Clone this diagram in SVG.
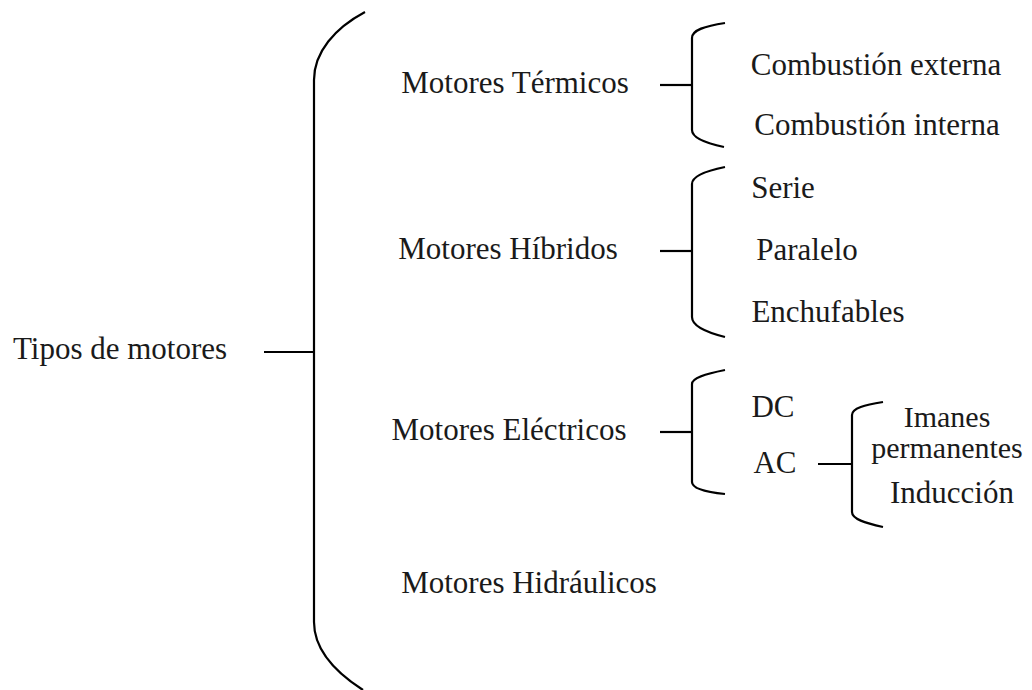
<svg xmlns="http://www.w3.org/2000/svg" width="1032" height="690" viewBox="0 0 1032 690">
<style>
.l{fill:none;stroke:#000;stroke-width:2.2;stroke-linecap:butt}
</style>
<rect width="1032" height="690" fill="#fff"/>
<g id="connectors">
<path class="l" d="M264,352H314"/>
<path class="l" d="M365,12C335,28 314,52 314,80V622C314,650 335,672 363,690"/>
<path class="l" d="M660,85H692"/>
<path class="l" d="M725,23C705,26 692,30 692,38V130C692,138 705,143 724,147"/>
<path class="l" d="M660,251H692"/>
<path class="l" d="M725,167C705,171 692,176 692,184V317C692,326 705,332 725,337"/>
<path class="l" d="M660,432H692"/>
<path class="l" d="M725,370C705,374 692,378 692,384V482C692,488 705,492 725,494"/>
<path class="l" d="M818,464H852"/>
<path class="l" d="M883,402C865,405 852,408 852,415V512C852,519 865,523 883,527"/>
</g>
<g id="root"><text x="120" y="359" font-family="'Liberation Serif'" font-size="31" fill="#1a1a1a" text-anchor="middle">Tipos de motores</text></g>
<g id="termicos"><text x="515" y="93" font-family="'Liberation Serif'" font-size="31" fill="#1a1a1a" text-anchor="middle">Motores Térmicos</text></g>
<g id="hibridos"><text x="508" y="259" font-family="'Liberation Serif'" font-size="31" fill="#1a1a1a" text-anchor="middle">Motores Híbridos</text></g>
<g id="electricos"><text x="509" y="440" font-family="'Liberation Serif'" font-size="31" fill="#1a1a1a" text-anchor="middle">Motores Eléctricos</text></g>
<g id="hidraulicos"><text x="529" y="593" font-family="'Liberation Serif'" font-size="31" fill="#1a1a1a" text-anchor="middle">Motores Hidráulicos</text></g>
<g id="comb-ext"><text x="876" y="75" font-family="'Liberation Serif'" font-size="31" fill="#1a1a1a" text-anchor="middle">Combustión externa</text></g>
<g id="comb-int"><text x="877" y="135" font-family="'Liberation Serif'" font-size="31" fill="#1a1a1a" text-anchor="middle">Combustión interna</text></g>
<g id="serie"><text x="783" y="198" font-family="'Liberation Serif'" font-size="31" fill="#1a1a1a" text-anchor="middle">Serie</text></g>
<g id="paralelo"><text x="807" y="260" font-family="'Liberation Serif'" font-size="31" fill="#1a1a1a" text-anchor="middle">Paralelo</text></g>
<g id="enchufables"><text x="828" y="322" font-family="'Liberation Serif'" font-size="31" fill="#1a1a1a" text-anchor="middle">Enchufables</text></g>
<g id="dc"><text x="773" y="417" font-family="'Liberation Serif'" font-size="31" fill="#1a1a1a" text-anchor="middle">DC</text></g>
<g id="ac"><text x="775" y="473" font-family="'Liberation Serif'" font-size="31" fill="#1a1a1a" text-anchor="middle">AC</text></g>
<g id="imanes"><text x="947" y="427" font-family="'Liberation Serif'" font-size="30" fill="#1a1a1a" text-anchor="middle">Imanes</text><text x="947" y="458" font-family="'Liberation Serif'" font-size="30" fill="#1a1a1a" text-anchor="middle">permanentes</text></g>
<g id="induccion"><text x="952" y="503" font-family="'Liberation Serif'" font-size="31" fill="#1a1a1a" text-anchor="middle">Inducción</text></g>
</svg>
